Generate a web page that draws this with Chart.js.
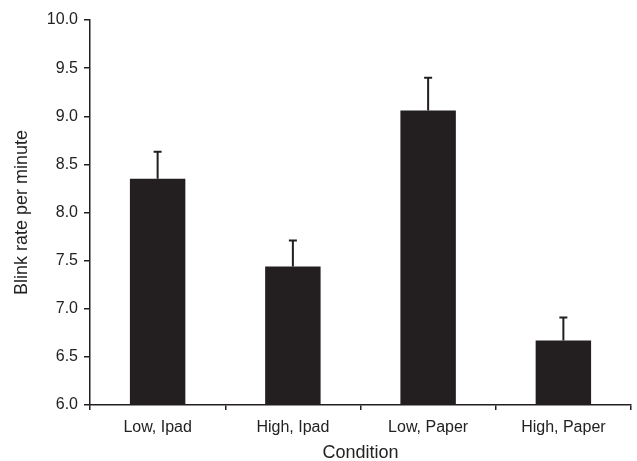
<!DOCTYPE html>
<html>
<head>
<meta charset="utf-8">
<script src="https://cdn.jsdelivr.net/npm/chart.js@4"></script>
<style>
  html, body { margin: 0; padding: 0; background: #fff; }
  #wrap { width: 637px; height: 461px; }
</style>
</head>
<body>
<div id="wrap"><canvas id="chart" width="637" height="461"></canvas></div>
<script>
const categories = ['Low, Ipad', 'High, Ipad', 'Low, Paper', 'High, Paper'];
const blinkRate = [8.35, 7.44, 9.06, 6.67];
const errorUp = [0.28, 0.27, 0.34, 0.24];
const yTicks = [6.0, 6.5, 7.0, 7.5, 8.0, 8.5, 9.0, 9.5, 10.0];

const ink = '#231f20';
const textColor = '#222';

// draws the upper error bar of each bar
const errorBars = {
  id: 'errorBars',
  afterDatasetsDraw(chart) {
    const ctx = chart.ctx;
    const yScale = chart.scales.y;
    const meta = chart.getDatasetMeta(0);
    ctx.save();
    ctx.strokeStyle = ink;
    ctx.lineWidth = 2;
    meta.data.forEach((bar, i) => {
      const top = yScale.getPixelForValue(blinkRate[i] + errorUp[i]);
      ctx.beginPath();
      ctx.moveTo(bar.x, bar.y);
      ctx.lineTo(bar.x, top);
      ctx.moveTo(bar.x - 4, top);
      ctx.lineTo(bar.x + 4, top);
      ctx.stroke();
    });
    ctx.restore();
  }
};

const chart = new Chart(document.getElementById('chart'), {
  type: 'bar',
  data: {
    labels: categories,
    datasets: [{
      data: blinkRate,
      backgroundColor: ink,
      borderWidth: 0,
      barPercentage: 0.41,
      categoryPercentage: 1
    }]
  },
  options: {
    responsive: false,
    animation: false,
    layout: { padding: { top: 20, right: 6, left: 0, bottom: 0 } },
    plugins: {
      legend: { display: false },
      tooltip: { enabled: false }
    },
    scales: {
      x: {
        grid: {
          display: true,
          offset: true,
          drawOnChartArea: false,
          drawTicks: true,
          tickLength: 5,
          color: ink,
          lineWidth: 1.5
        },
        border: { display: true, color: ink, width: 1.5 },
        ticks: {
          color: textColor,
          padding: 8,
          font: { family: 'Liberation Sans', size: 16 }
        },
        title: {
          display: true,
          text: 'Condition',
          color: textColor,
          padding: { top: 0, bottom: -3 },
          font: { family: 'Liberation Sans', size: 18 }
        },
        afterFit(scale) { scale.height = 56; }
      },
      y: {
        min: 6,
        max: 10,
        afterBuildTicks(scale) {
          scale.ticks = yTicks.map(v => ({ value: v }));
        },
        grid: {
          display: true,
          drawOnChartArea: false,
          drawTicks: true,
          tickLength: 6,
          color: ink,
          lineWidth: 1.5
        },
        border: { display: true, color: ink, width: 1.5 },
        ticks: {
          color: textColor,
          padding: 6,
          font: { family: 'Liberation Sans', size: 16 },
          callback: v => Number(v).toFixed(1)
        },
        title: {
          display: true,
          text: 'Blink rate per minute',
          color: textColor,
          padding: { top: 11, bottom: 0 },
          font: { family: 'Liberation Sans', size: 18 }
        },
        afterFit(scale) { scale.width = 90; }
      }
    }
  },
  plugins: [errorBars]
});
</script>
</body>
</html>
